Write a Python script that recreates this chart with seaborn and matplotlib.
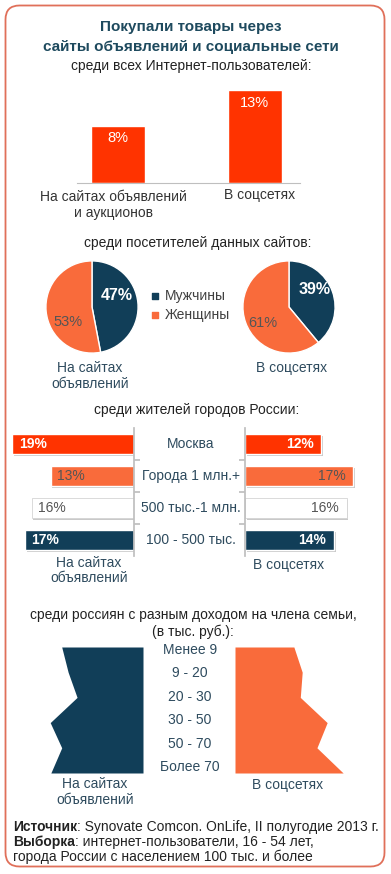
import numpy as np
import pandas as pd
import seaborn as sns
import matplotlib.pyplot as plt
from matplotlib.patches import FancyBboxPatch
from matplotlib import patheffects as pe

channels = ['На сайтах объявлений', 'В соцсетях']
share_all = [8, 13]

gender_labels = ['Мужчины', 'Женщины']
gender_sites = [47, 53]
gender_social = [39, 61]

city_groups = ['Москва', 'Города 1 млн.+', '500 тыс.-1 млн.', '100 - 500 тыс.']
city_sites = [19, 13, 16, 17]
city_social = [12, 17, 16, 14]

income_groups = ['Менее 9', '9 - 20', '20 - 30', '30 - 50', '50 - 70', 'Более 70']
income_sites = [12.7, 11.7, 10.3, 14.5, 12.7, 14.4]
income_social = [9.2, 10.5, 10.2, 14.4, 12.8, 16.9]

# colours
RED = '#FF3300'
ORANGE = '#F96B3B'
NAVY = '#113E58'
TITLE = '#1E4A5E'
SLATE = '#2E4B5E'
GRAY = '#555555'
LINE = '#BFBFBF'

sns.set_theme(style='white')
plt.rcParams['font.family'] = ['Liberation Sans', 'DejaVu Sans']

W, H = 391, 874
fig = plt.figure(figsize=(W / 100, H / 100), dpi=100)


def box(x0, y0, x1, y1):
    # pixel box (top-left origin) -> figure fraction rect
    return [x0 / W, 1 - y1 / H, (x1 - x0) / W, (y1 - y0) / H]


# background axes in pixel coordinates, used for all free text
bg = fig.add_axes([0, 0, 1, 1])
bg.set_xlim(0, W)
bg.set_ylim(H, 0)
bg.axis('off')
bg.add_patch(FancyBboxPatch((5.5, 5.5), 379, 861, boxstyle='round,pad=0,rounding_size=14',
                            fc='white', ec='#E0705A', lw=1.3))


def label(x, y, lines, dy=15.5, **kw):
    opts = dict(ha='center', va='center', fontsize=10, color=SLATE)
    opts.update(kw)
    for i, s in enumerate(lines):
        bg.text(x, y + i * dy, s, **opts)


shadow = [pe.SimplePatchShadow(offset=(1.2, -1.5), shadow_rgbFace='#888888', alpha=0.45), pe.Normal()]

# titles
label(191, 27, ['Покупали товары через'], fontsize=11, fontweight='bold', color=TITLE)
label(191, 47, ['сайты объявлений и социальные сети'], fontsize=11, fontweight='bold', color=TITLE)
label(191, 66, ['среди всех Интернет-пользователей:'], color='#222222')

# --- section 1: simple bars ---
ax1 = fig.add_axes(box(77, 80, 300, 183))
ax1.set_facecolor('none')
df1 = pd.DataFrame({'channel': channels, 'share': share_all})
sns.barplot(data=df1, x='channel', y='share', ax=ax1, color=RED, saturation=1, width=0.39)
ax1.set_xlim(-0.3, 1.33)
ax1.set_ylim(0, 13 * 103 / 93)
ax1.set_xticks([])
ax1.set_yticks([])
ax1.set_xlabel('')
ax1.set_ylabel('')
for s in ['left', 'right', 'top']:
    ax1.spines[s].set_visible(False)
ax1.spines['bottom'].set_color(LINE)
ax1.spines['bottom'].set_linewidth(0.8)
for p in ax1.patches:
    p.set_path_effects(shadow)
for i, v in enumerate(share_all):
    ax1.annotate(f'{v}%', (i, v), xytext=(0, -4), textcoords='offset points',
                 ha='center', va='top', color='white', fontsize=10.5)
label(113, 197, ['На сайтах объявлений', 'и аукционов'], dy=16, color='#333333')
label(260, 195, ['В соцсетях'], color='#333333')

# --- section 2: pies ---
label(198, 243, ['среди посетителей данных сайтов:'], color='#222222')
pie_text = [(92, gender_sites, (117, 296), (68, 322)),
            (289, gender_social, (315, 290), (263, 323))]
for cx, vals, pos_m, pos_w in pie_text:
    axp = fig.add_axes(box(cx - 47, 260, cx + 47, 354))
    axp.set_facecolor('none')
    axp.pie(vals, colors=[NAVY, ORANGE], startangle=90, counterclock=False,
            wedgeprops=dict(edgecolor='white', linewidth=1))
    axp.set_xlim(-1.02, 1.02)
    axp.set_ylim(-1.02, 1.02)
    axp.text(*pos_m, f'{vals[0]}%', transform=bg.transData, ha='center', va='center',
             color='white', fontsize=11.5, fontweight='bold')
    axp.text(*pos_w, f'{vals[1]}%', transform=bg.transData, ha='center', va='center',
             color=GRAY, fontsize=10.5)
for j, (name, col) in enumerate(zip(gender_labels, [NAVY, ORANGE])):
    y = 296 + j * 19
    bg.scatter([155], [y], marker='s', s=14, color=col)
    bg.text(165, y, name, ha='left', va='center', fontsize=10, color='#404040')
label(90, 368, ['На сайтах', 'объявлений'])
label(292, 368, ['В соцсетях'])

# --- section 3: city butterfly bars ---
label(197, 410, ['среди жителей городов России:'], color='#222222')
row_colors = [RED, ORANGE, 'white', NAVY]
text_colors = ['white', GRAY, GRAY, 'white']
text_weights = ['bold', 'normal', 'normal', 'bold']
dfc = pd.DataFrame({'group': city_groups, 'sites': city_sites, 'social': city_social})

axl = fig.add_axes(box(5, 428, 134, 556))
axr = fig.add_axes(box(245, 428, 385, 556))
for ax, col, xmax in [(axl, 'sites', 129 / 6.4), (axr, 'social', 140 / 6.35)]:
    ax.set_facecolor('none')
    sns.barplot(data=dfc, x=col, y='group', hue='group', palette=row_colors, orient='h',
                ax=ax, width=0.6, saturation=1, legend=False)
    ax.set_ylim(3.5, -0.5)
    ax.set_xlabel('')
    ax.set_ylabel('')
    ax.set_xticks([])
    for s in ax.spines.values():
        s.set_visible(False)
    for p, c in zip(ax.patches, row_colors):
        p.set_path_effects(shadow)
        if c == 'white':
            p.set_edgecolor('#D4D4D4')
            p.set_linewidth(0.6)
    if col == 'sites':
        ax.set_xlim(xmax, 0)
        ax.spines['right'].set_visible(True)
        ax.spines['right'].set_color(LINE)
        ax.yaxis.tick_right()
        ax.tick_params(axis='y', right=True, left=False, direction='out', length=4,
                       color=LINE, labelright=False, labelleft=False)
    else:
        ax.set_xlim(0, xmax)
        ax.spines['left'].set_visible(True)
        ax.spines['left'].set_color(LINE)
        ax.tick_params(axis='y', left=True, direction='out', length=4,
                       color=LINE, labelleft=False)
    ax.set_yticks([0.5, 1.5, 2.5])
    ax.set_yticklabels([])

for i, v in enumerate(city_sites):
    axl.annotate(f'{v}%', (v, i), xytext=(4.5, 0), textcoords='offset points', ha='left', va='center',
                 color=text_colors[i], fontweight=text_weights[i], fontsize=10)
for i, v in enumerate(city_social):
    axr.annotate(f'{v}%', (v, i), xytext=(-5.5, 0), textcoords='offset points', ha='right', va='center',
                 color=text_colors[i], fontweight=text_weights[i], fontsize=10)
for i, g in enumerate(city_groups):
    bg.text(191, 444 + i * 32, g, ha='center', va='center', fontsize=10, color=SLATE)
label(89, 563, ['На сайтах', 'объявлений'])
label(289, 565, ['В соцсетях'])

# --- section 4: income profiles ---
label(193, 615, ['среди россиян с разным доходом на члена семьи,', '(в тыс. руб.):'], dy=17, color='#222222')
ypos = np.arange(len(income_groups))
axil = fig.add_axes(box(20, 647, 143, 773))
axir = fig.add_axes(box(235, 647, 385, 773))
for ax, vals, col in [(axil, income_sites, NAVY), (axir, income_social, ORANGE)]:
    ax.set_facecolor('none')
    ax.fill_betweenx(ypos, 0, vals, color=col, lw=0)
    ax.set_ylim(len(income_groups) - 1, 0)
    ax.axis('off')
axil.set_xlim(123 / 6.4, 0)
axir.set_xlim(0, 150 / 6.4)
for i, g in enumerate(income_groups):
    bg.text(190, 650 + i * 23.4, g, ha='center', va='center', fontsize=10, color=SLATE)
label(95, 784, ['На сайтах', 'объявлений'])
label(288, 785, ['В соцсетях'])

# --- footer ---
foot = [('Источник', ': Synovate Comcon. OnLife, II полугодие 2013 г.', 827),
        ('Выборка', ': интернет-пользователи, 16 - 54 лет,', 842)]
for bold, rest, y in foot:
    t = bg.text(13, y, bold, ha='left', va='center', fontsize=10, fontweight='bold', color='#222222')
    bg.annotate(rest, xy=(1, 0.5), xycoords=t, ha='left', va='center', fontsize=10, color='#222222')
bg.text(13, 857, 'города России с населением 100 тыс. и более', ha='left', va='center',
        fontsize=10, color='#222222')

fig.savefig('out.png', dpi=100)
